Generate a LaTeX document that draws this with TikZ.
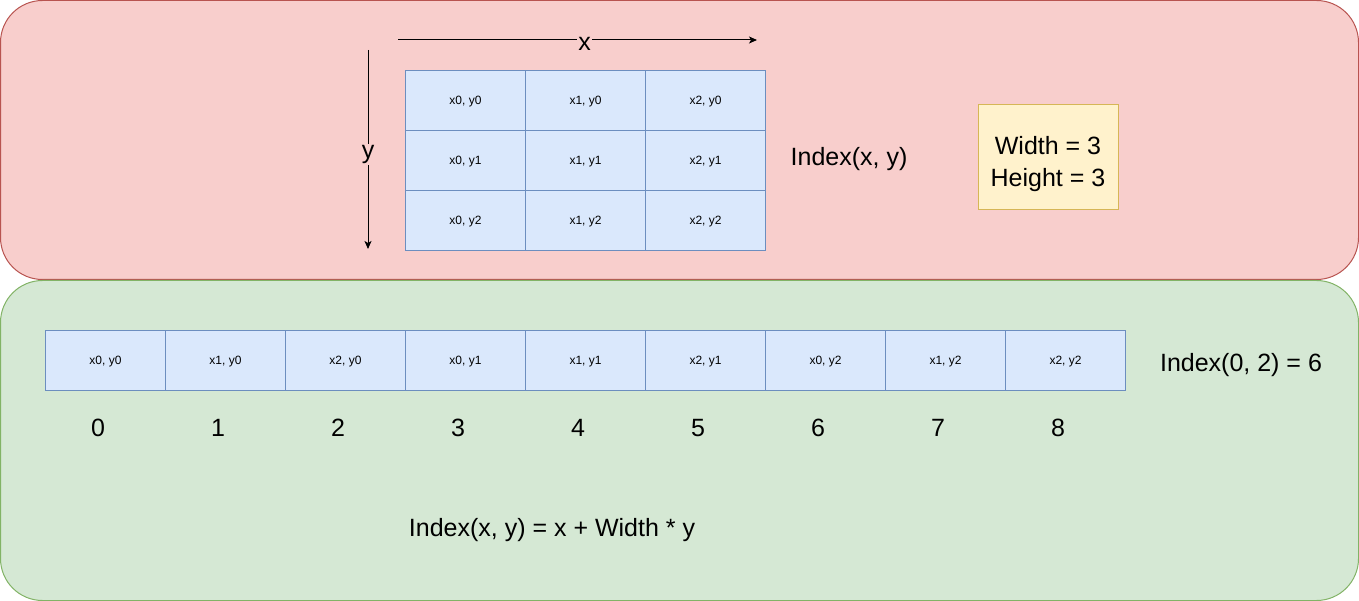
\documentclass[tikz,border=0pt]{standalone}
\usepackage{fontspec}
\setmainfont{Liberation Sans}
\usetikzlibrary{arrows.meta}
\definecolor{redfill}{HTML}{F8CECC}
\definecolor{redline}{HTML}{B85450}
\definecolor{greenfill}{HTML}{D5E8D4}
\definecolor{greenline}{HTML}{82B366}
\definecolor{bluefill}{HTML}{DAE8FC}
\definecolor{blueline}{HTML}{6C8EBF}
\definecolor{yellowfill}{HTML}{FFF2CC}
\definecolor{yellowline}{HTML}{D6B656}
\begin{document}
\begin{tikzpicture}[x=1pt,y=-1pt,
  cell/.style={draw=blueline, fill=bluefill, line width=1pt, minimum width=120pt, minimum height=60pt, inner sep=0pt, anchor=north west, font=\fontsize{12}{14}\selectfont, text height=10.8pt, text depth=2.2pt},
  big/.style={font=\fontsize{25}{32}\selectfont, inner sep=1pt, text height=22.5pt, text depth=4.5pt},
  arr/.style={line width=1pt, -{Stealth[length=8pt,width=7pt,inset=2pt]}},
  lbl/.style={big, fill=redfill, inner sep=1pt}]
\useasboundingbox (0,0) rectangle (1359,601);
\draw[draw=redline, fill=redfill, line width=1pt, rounded corners=42pt] (0.5,0.5) rectangle (1358.5,279.5);
\draw[draw=greenline, fill=greenfill, line width=1pt, rounded corners=42pt] (0.5,280.5) rectangle (1358.5,600.5);
% top grid
\foreach \j in {0,1,2}{
  \foreach \i in {0,1,2}{
    \node[cell] (g\i\j) at ({405+120*\i},{70+60*\j}) {x\i, y\j};
  }
}
% axes
\coordinate (xs) at (398,40);
\coordinate (xe) at (757,40);
\coordinate (ys) at (368,50);
\coordinate (ye) at (368,249);
\draw[arr] (xs) -- (xe) node[lbl, pos=0.52, yshift=-6pt, text height=14pt, text depth=4pt] (xl) {x};
\draw[arr] (ys) -- (ye) node[lbl, pos=0.5, yshift=-5pt, text height=14pt, text depth=5pt] (yl) {y};
\node[big] (idx) at (849,157) {Index(x, y)};
\node[draw=yellowline, fill=yellowfill, line width=1pt, minimum width=140pt, minimum height=105pt] (wh) at (1048,157.5) {};
\node[font=\fontsize{25}{32}\selectfont, align=center, inner sep=0pt] (whtext) at (1048,164) {Width = 3\\Height = 3};
% bottom row
\foreach \k/\i/\j in {0/0/0,1/1/0,2/2/0,3/0/1,4/1/1,5/2/1,6/0/2,7/1/2,8/2/2}{
  \node[cell] (r\k) at ({45+120*\k},330) {x\i, y\j};
  \node[big] (n\k) at ({98+120*\k},427) {\k};
}
\node[big] (ex) at (1241,362) {Index(0, 2) = 6};
\node[big] (form) at (552,527) {Index(x, y) = x + Width * y};
\end{tikzpicture}
\end{document}
